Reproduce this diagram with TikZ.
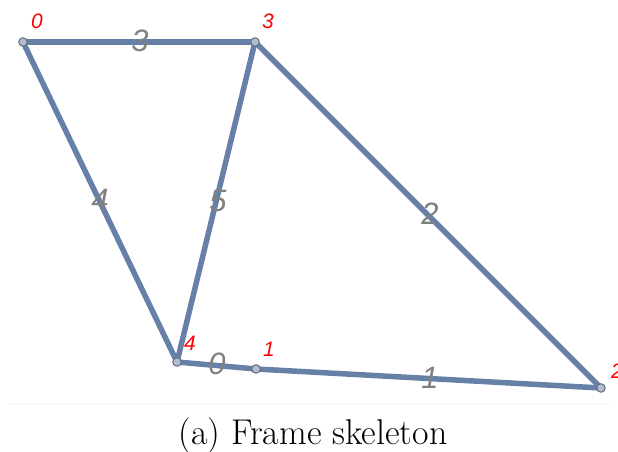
\documentclass[tikz,border=0pt]{standalone}
\usepackage{fontspec}
\newfontfamily\lblfont{Liberation Sans}
\definecolor{edgeblue}{RGB}{102,128,168}
\definecolor{vfill}{RGB}{176,188,208}
\definecolor{vdraw}{RGB}{100,110,125}
\definecolor{elabel}{RGB}{128,128,128}
\begin{document}
\begin{tikzpicture}[x=1bp,y=-1bp,
  edge/.style={draw=edgeblue,line width=5.5bp},
  vert/.style={circle,fill=vfill,draw=vdraw,line width=1bp,inner sep=0pt,minimum size=8.5bp},
  vlab/.style={text=red,font=\lblfont\itshape\fontsize{21}{21}\selectfont,inner sep=0pt},
  elab/.style={text=elabel,font=\lblfont\itshape\fontsize{31}{31}\selectfont,inner sep=0pt}]
\useasboundingbox (0,0) rectangle (618,452);
\coordinate (p0) at (23,42);
\coordinate (p3) at (255,42);
\coordinate (p4) at (177,362);
\coordinate (p1) at (256,369);
\coordinate (p2) at (601,388);
\draw[draw={rgb,255:red,245;green,245;blue,245},line width=0.8bp] (8,404) -- (612,404);
\draw[edge] (p0) -- (p3);
\draw[edge] (p0) -- (p4);
\draw[edge] (p4) -- (p3);
\draw[edge] (p3) -- (p2);
\draw[edge] (p4) -- (p1);
\draw[edge] (p1) -- (p2);
\node[vert] (v0) at (p0) {};
\node[vert] (v3) at (p3) {};
\node[vert] (v4) at (p4) {};
\node[vert] (v1) at (p1) {};
\node[vert] (v2) at (p2) {};
\node[vlab] (l0) at (37,21) {0};
\node[vlab] (l3) at (268,21) {3};
\node[vlab] (l4) at (190,343) {4};
\node[vlab] (l1) at (269,349) {1};
\node[vlab] (l2) at (617,371) {2};
\node[elab] (e3) at (140,41) {3};
\node[elab] (e4) at (100,200) {4};
\node[elab] (e5) at (218,201) {5};
\node[elab] (e2) at (430,214) {2};
\node[elab] (e0) at (217,364) {0};
\node[elab] (e1) at (430,378) {1};
\node[font=\fontsize{36}{42}\selectfont,inner sep=0pt] (cap) at (313,436) {(a) Frame skeleton};
\end{tikzpicture}
\end{document}
